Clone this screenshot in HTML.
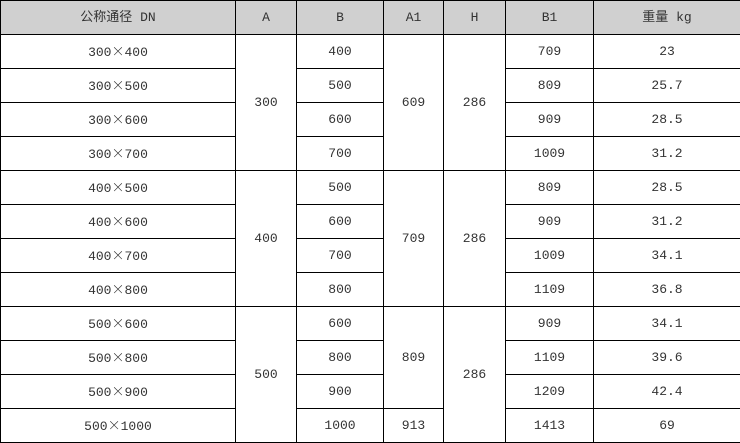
<!DOCTYPE html>
<html><head><meta charset="utf-8"><style>
html,body{margin:0;padding:0;background:#fff;}
table{border-collapse:collapse;table-layout:fixed;width:740px;height:443px;font-family:"Liberation Mono","Noto Sans CJK SC",monospace;font-size:13px;color:#333;}
td,th{border:1px solid #000;text-align:center;vertical-align:middle;padding:0;height:33px;font-weight:normal;line-height:15px;}
th{background:#d0d0d0;}
.x{font-family:"Noto Sans CJK SC",sans-serif;font-weight:300;line-height:1;}
</style></head><body>
<table>
<colgroup><col style="width:235px"><col style="width:61px"><col style="width:87px"><col style="width:60px"><col style="width:62px"><col style="width:88px"><col style="width:147px"></colgroup>
<tr><th>公称通径 DN</th><th>A</th><th>B</th><th>A1</th><th>H</th><th>B1</th><th>重量 kg</th></tr>
<tr><td>300<span class="x">×</span>400</td><td rowspan="4">300</td><td>400</td><td rowspan="4">609</td><td rowspan="4">286</td><td>709</td><td>23</td></tr>
<tr><td>300<span class="x">×</span>500</td><td>500</td><td>809</td><td>25.7</td></tr>
<tr><td>300<span class="x">×</span>600</td><td>600</td><td>909</td><td>28.5</td></tr>
<tr><td>300<span class="x">×</span>700</td><td>700</td><td>1009</td><td>31.2</td></tr>
<tr><td>400<span class="x">×</span>500</td><td rowspan="4">400</td><td>500</td><td rowspan="4">709</td><td rowspan="4">286</td><td>809</td><td>28.5</td></tr>
<tr><td>400<span class="x">×</span>600</td><td>600</td><td>909</td><td>31.2</td></tr>
<tr><td>400<span class="x">×</span>700</td><td>700</td><td>1009</td><td>34.1</td></tr>
<tr><td>400<span class="x">×</span>800</td><td>800</td><td>1109</td><td>36.8</td></tr>
<tr><td>500<span class="x">×</span>600</td><td rowspan="4">500</td><td>600</td><td rowspan="3">809</td><td rowspan="4">286</td><td>909</td><td>34.1</td></tr>
<tr><td>500<span class="x">×</span>800</td><td>800</td><td>1109</td><td>39.6</td></tr>
<tr><td>500<span class="x">×</span>900</td><td>900</td><td>1209</td><td>42.4</td></tr>
<tr><td>500<span class="x">×</span>1000</td><td>1000</td><td>913</td><td>1413</td><td>69</td></tr>
</table>
</body></html>
